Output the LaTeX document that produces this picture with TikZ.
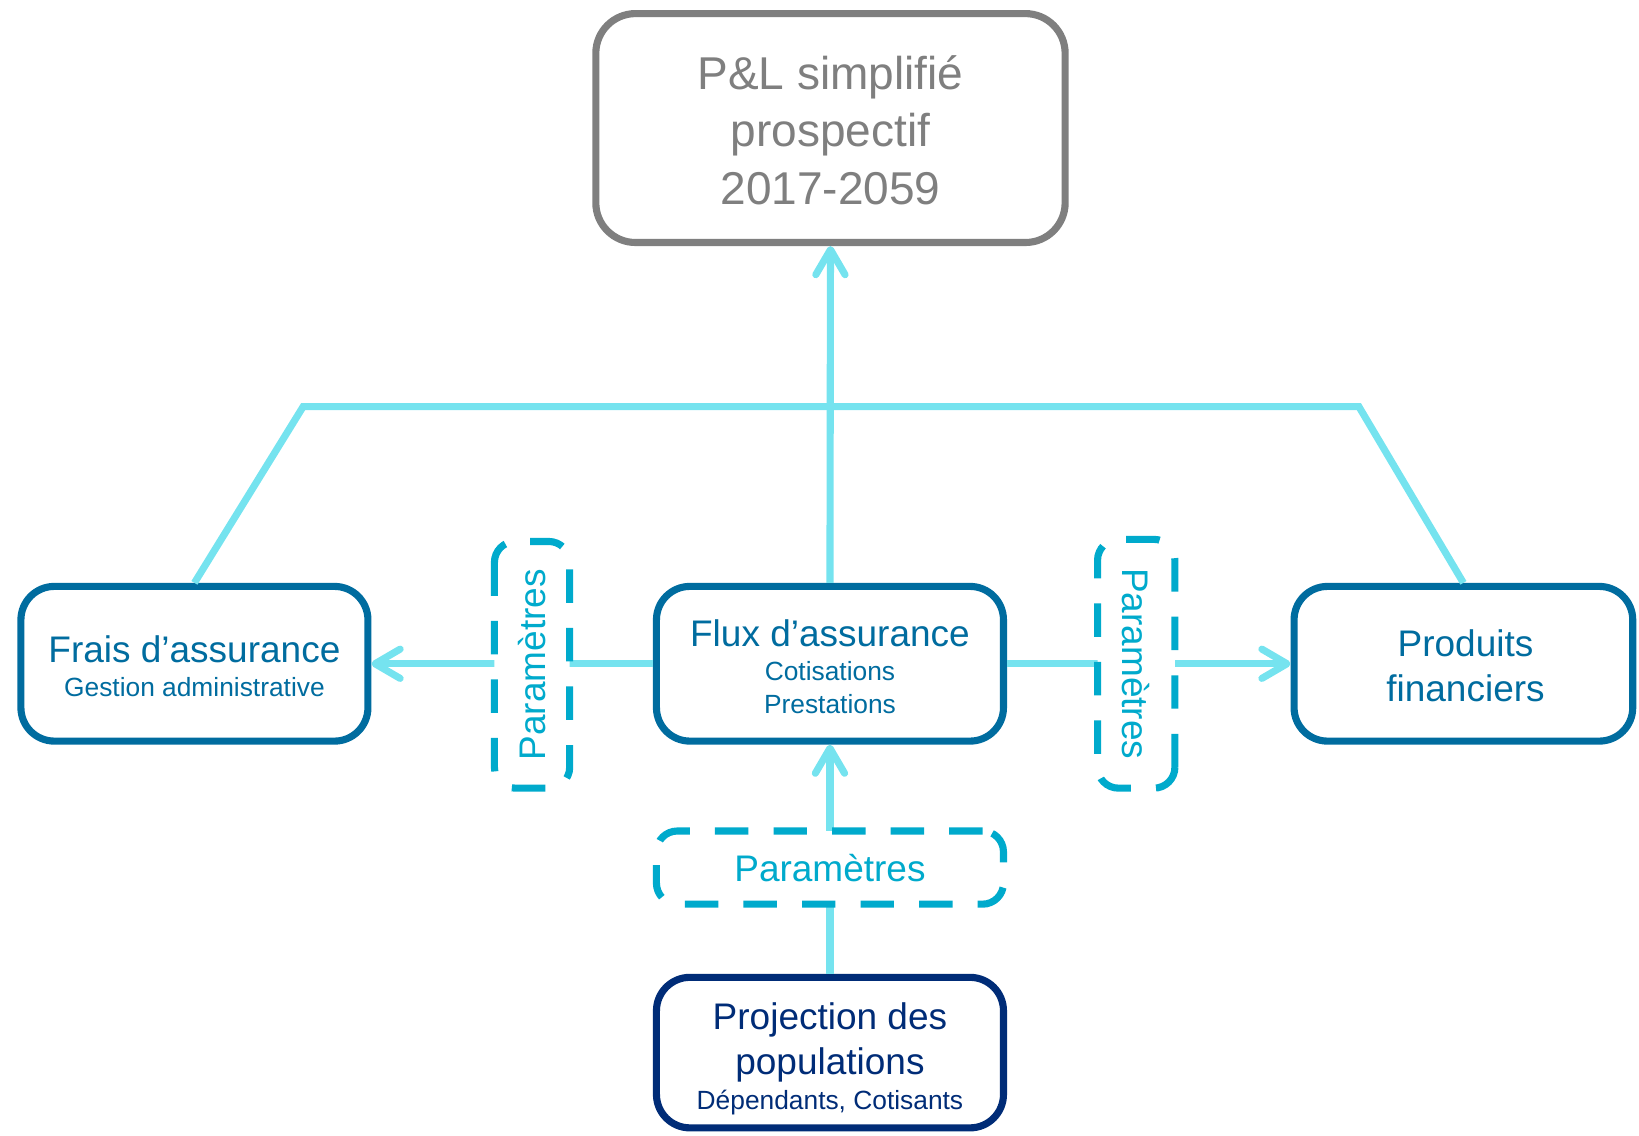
\documentclass[tikz,border=0pt]{standalone}
\usepackage{fontspec}
\setmainfont{Liberation Sans}
\usetikzlibrary{arrows.meta}
\definecolor{plgray}{HTML}{7F7F7F}
\definecolor{boxblue}{HTML}{006C9F}
\definecolor{navyblue}{HTML}{002C77}
\definecolor{cyanline}{HTML}{75E3EF}
\definecolor{paramteal}{HTML}{00AACC}
\begin{document}
\begin{tikzpicture}[x=0.5pt,y=-0.5pt,
  solidbox/.style={draw, line width=3.4pt, rounded corners=16pt, fill=white, inner sep=0pt},
  bluebox/.style={solidbox, draw=boxblue, minimum width=166pt, minimum height=74pt},
  boxtext/.style={align=center, inner sep=0pt},
  parambox/.style={draw=paramteal, line width=3.4pt, dash pattern=on 16pt off 12pt, rounded corners=10pt, fill=white, text=paramteal, inner sep=0pt, font=\fontsize{17.7}{21}\selectfont},
  conn/.style={draw=cyanline, line width=3.4pt},
  arr/.style={conn, -{Straight Barb[length=12pt,width=14pt,round]}}]

\useasboundingbox (0,0) rectangle (1568,1086);

% boxes
\node[solidbox, draw=plgray, rounded corners=19pt, minimum width=224.5pt, minimum height=109.5pt] (pl) at (794.5,122.5) {};
\node[bluebox] (frais) at (186,635) {};
\node[bluebox] (flux) at (794,635) {};
\node[bluebox, minimum width=162pt] (prod) at (1400,635) {};
\node[solidbox, draw=navyblue, minimum width=166pt, minimum height=72pt] (proj) at (794,1007) {};

% texts
\node[boxtext, text=plgray, font=\fontsize{22}{27.5}\selectfont] (plT) at (794.5,124.5) {P\&L simplifié\\prospectif\\2017-2059};
\node[boxtext, text=boxblue, font=\fontsize{17.7}{16.25}\selectfont] (fraisT) at (186,637) {Frais d’assurance\\{\fontsize{12.6}{15}\selectfont Gestion administrative}};
\node[boxtext, text=boxblue, font=\fontsize{17.7}{16}\selectfont] (fluxT) at (794,638) {Flux d’assurance\\{\fontsize{12.6}{15}\selectfont Cotisations}\\{\fontsize{12.6}{15}\selectfont Prestations}};
\node[boxtext, text=boxblue, font=\fontsize{17.7}{21.5}\selectfont] (prodT) at (1402,637) {Produits\\financiers};
\node[boxtext, text=navyblue, font=\fontsize{17.7}{16.75}\selectfont] (projT) at (794,1013) {Projection des\\[4.75pt]populations\\{\fontsize{12.6}{15}\selectfont Dépendants, Cotisants}};

% connectors
\coordinate (hl) at (290,389);
\coordinate (hr) at (1300,389);

\draw[arr] (flux.north) -- (pl.south);
\draw[conn] (frais.north) -- (hl) -- (hr) -- (prod.north);
\draw[arr] (flux.west) -- (frais.east);
\draw[arr] (flux.east) -- (prod.west);
\draw[arr] (proj.north) -- (flux.south);

% parameter boxes
\node[parambox, rotate=90, minimum width=118pt, minimum height=36pt] (parL) at (509,636) {Paramètres};
\node[parambox, rotate=-90, minimum width=119pt, minimum height=37pt] (parR) at (1087,635) {Paramètres};
\node[parambox, minimum width=166pt, minimum height=35pt] (parB) at (794,830) {Paramètres};
\end{tikzpicture}
\end{document}
